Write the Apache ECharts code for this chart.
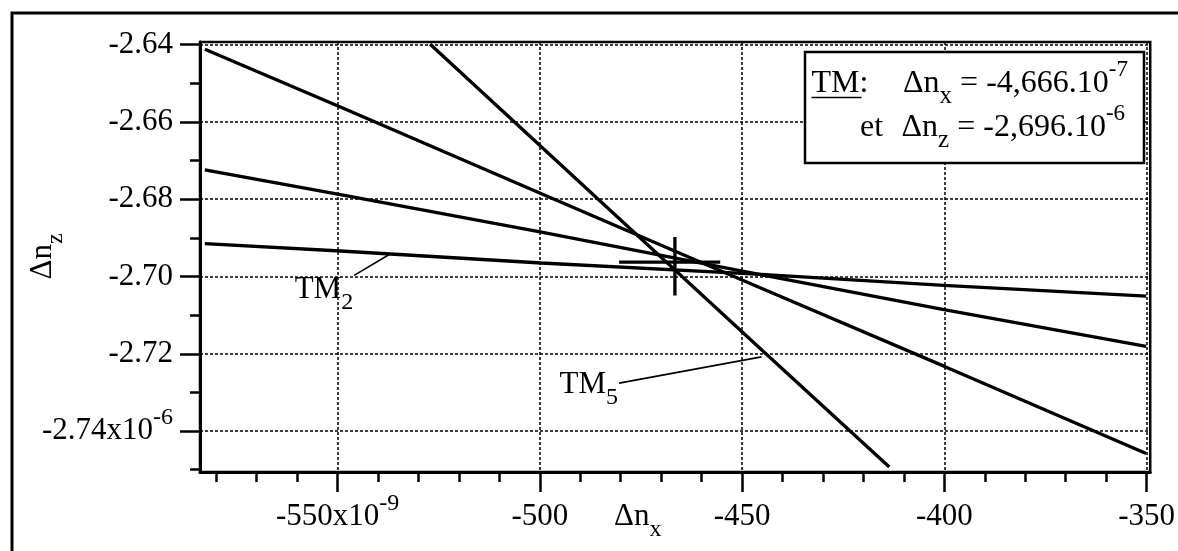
<!DOCTYPE html>
<html>
<head>
<meta charset="utf-8">
<script src="https://cdn.jsdelivr.net/npm/echarts@6/dist/echarts.min.js"></script>
<style>html,body{margin:0;padding:0;background:#fff}#c{width:1178px;height:551px}</style>
</head>
<body>
<div id="c"></div>
<script>
// ---- axis ranges and ticks (units: x in 1e-9, y in 1e-6) ----
const xMin = -584, xMax = -349.1;
const yMin = -2.7506, yMax = -2.6393;
const xMajorTicks = [-550, -500, -450, -400, -350];
const xTickLabels = ['-550x10^-9', '-500', '-450', '-400', '-350'];
const xMinorTicks = [-580, -570, -560, -540, -530, -520, -510, -490, -480, -470, -460, -440, -430, -420, -410, -390, -380, -370, -360];
const yMajorTicks = [-2.64, -2.66, -2.68, -2.70, -2.72, -2.74];
const yTickLabels = ['-2.64', '-2.66', '-2.68', '-2.70', '-2.72', '-2.74x10^-6'];
const yMinorTicks = [-2.65, -2.67, -2.69, -2.71, -2.73, -2.75];

// ---- lines ----
const lineTM2 = [[-582.8, -2.6915], [-549.3, -2.6934], [-499.6, -2.6965], [-446.4, -2.6994], [-400.1, -2.7023], [-350.1, -2.7051]];
const lineTM3 = [[-582.8, -2.6724], [-549.3, -2.6788], [-499.6, -2.6885], [-446.4, -2.6993], [-400.1, -2.7086], [-350.1, -2.7181]];
const lineTM4 = [[-582.8, -2.6412], [-549.3, -2.6561], [-499.6, -2.6786], [-446.4, -2.7025], [-400.1, -2.7232], [-350.1, -2.7458]];
const lineTM5 = [[-527.1, -2.6399], [-486.1, -2.6795], [-446.4, -2.7178], [-413.6, -2.7493]];

// ---- solution TM with its uncertainty bars ----
const tmPoint = [-466.6, -2.6963];
const tmErrX = [-480.4, -455.4];
const tmErrY = [-2.6898, -2.7049];

// ---- annotation leaders and label anchors ----
const leaderTM2 = [[-545.9, -2.6997], [-536.9, -2.6941]];
const leaderTM5 = [[-480.4, -2.7276], [-445.2, -2.7208]];
const labelTM2 = [-560.6, -2.6969];
const labelTM5 = [-495.1, -2.7215];

const FONT = "'Liberation Serif', 'Times New Roman', serif";
const K = '#000';

function toRich(s) {
  const parts = s.split('^');
  return '{m|' + parts[0] + '}' + (parts[1] ? '{p|' + parts[1] + '}' : '');
}
const richTick = {
  m: {fontSize: 31, lineHeight: 50, fontFamily: FONT, color: K},
  p: {fontSize: 24, lineHeight: 26, verticalAlign: 'top', fontFamily: FONT, color: K},
  b: {fontSize: 24, lineHeight: 31, verticalAlign: 'bottom', fontFamily: FONT, color: K}
};
const richLeg = {
  m: {fontSize: 32, lineHeight: 50, fontFamily: FONT, color: K},
  p: {fontSize: 23, lineHeight: 31, verticalAlign: 'top', fontFamily: FONT, color: K},
  b: {fontSize: 25, lineHeight: 31, verticalAlign: 'bottom', fontFamily: FONT, color: K}
};

const gridLine = {show: true, lineStyle: {color: K, width: 1.5, type: [3, 2]}};

function lineSeries(name, data, w) {
  return {
    name: name, type: 'line', data: data, showSymbol: false, symbol: 'none',
    lineStyle: {color: K, width: w}, silent: true, z: 3, clip: true
  };
}

const chart = echarts.init(document.getElementById('c'));
chart.setOption({
  animation: false,
  backgroundColor: '#fff',
  grid: {left: 200, top: 42, right: 22, bottom: 79, show: true, borderColor: K, borderWidth: 2.5, backgroundColor: 'rgba(0,0,0,0)'},
  xAxis: [
    {
      type: 'value', min: xMin, max: xMax, position: 'bottom',
      axisLine: {show: true, onZero: false, lineStyle: {color: K, width: 3}},
      axisTick: {show: true, customValues: xMajorTicks, length: 20, lineStyle: {color: K, width: 2.5}},
      axisLabel: {
        show: true, customValues: xMajorTicks, margin: 20,
        formatter: function (v) { const i = xMajorTicks.indexOf(v); return toRich(i >= 0 ? xTickLabels[i] : String(v)); },
        rich: richTick
      },
      splitLine: gridLine
    },
    {
      type: 'value', min: xMin, max: xMax, position: 'bottom', offset: 0,
      axisLine: {show: false, onZero: false},
      axisTick: {show: true, customValues: xMinorTicks, length: 10, lineStyle: {color: K, width: 2.5}},
      axisLabel: {show: false},
      splitLine: {show: false}
    }
  ],
  yAxis: [
    {
      type: 'value', min: yMin, max: yMax, position: 'left',
      axisLine: {show: true, onZero: false, lineStyle: {color: K, width: 3}},
      axisTick: {show: true, customValues: yMajorTicks, length: 20, lineStyle: {color: K, width: 2.5}},
      axisLabel: {
        show: true, customValues: yMajorTicks, margin: 27,
        formatter: function (v) {
          let i = -1;
          yMajorTicks.forEach(function (t, k) { if (Math.abs(t - v) < 1e-9) i = k; });
          return toRich(i >= 0 ? yTickLabels[i] : String(v));
        },
        rich: richTick
      },
      splitLine: gridLine
    },
    {
      type: 'value', min: yMin, max: yMax, position: 'left', offset: 0,
      axisLine: {show: false, onZero: false},
      axisTick: {show: true, customValues: yMinorTicks, length: 10, lineStyle: {color: K, width: 2.5}},
      axisLabel: {show: false},
      splitLine: {show: false}
    }
  ],
  series: [
    lineSeries('TM2', lineTM2, 3.3),
    lineSeries('TM3', lineTM3, 3.3),
    lineSeries('TM4', lineTM4, 3.3),
    lineSeries('TM5', lineTM5, 3.3),
    lineSeries('TM err x', [[tmErrX[0], tmPoint[1]], [tmErrX[1], tmPoint[1]]], 3.3),
    lineSeries('TM err y', [[tmPoint[0], tmErrY[0]], [tmPoint[0], tmErrY[1]]], 3.3),
    lineSeries('TM2 leader', leaderTM2, 1.6),
    lineSeries('TM5 leader', leaderTM5, 1.6)
  ]
});

const p2 = chart.convertToPixel({gridIndex: 0}, labelTM2);
const p5 = chart.convertToPixel({gridIndex: 0}, labelTM5);

chart.setOption({
  graphic: [
    {id: 'frame', type: 'polyline', z: 50, silent: true,
     shape: {points: [[12, 560], [12, 13], [1190, 13]]},
     style: {stroke: K, lineWidth: 3, fill: null}},
    {id: 'lblTM2', type: 'text', x: p2[0], y: p2[1], z: 50, silent: true,
     style: {text: '{m|TM}{b|2}', rich: richTick, align: 'left', verticalAlign: 'top'}},
    {id: 'lblTM5', type: 'text', x: p5[0], y: p5[1], z: 50, silent: true,
     style: {text: '{m|TM}{b|5}', rich: richTick, align: 'left', verticalAlign: 'top'}},
    {id: 'xTitle', type: 'text', x: 614, y: 491.5, z: 50, silent: true,
     style: {text: '{m|\u0394n}{b|x}', rich: richTick, align: 'left', verticalAlign: 'top'}},
    {id: 'yTitle', type: 'text', x: 43, y: 256.5, rotation: Math.PI / 2, z: 50, silent: true,
     style: {text: '{m|\u0394n}{b|z}', rich: richTick, align: 'center', verticalAlign: 'middle'}},
    {id: 'legBox', type: 'rect', z: 60, silent: true,
     shape: {x: 805, y: 52, width: 339, height: 111},
     style: {fill: '#fff', stroke: K, lineWidth: 2.5}},
    {id: 'legTM', type: 'text', x: 811.5, y: 58.5, z: 61, silent: true,
     style: {text: '{m|TM:}', rich: richLeg, align: 'left', verticalAlign: 'top'}},
    {id: 'legUl', type: 'line', z: 61, silent: true,
     shape: {x1: 811.5, y1: 97.5, x2: 861.5, y2: 97.5},
     style: {stroke: K, lineWidth: 1.5}},
    {id: 'legL1', type: 'text', x: 903, y: 58.5, z: 61, silent: true,
     style: {text: '{m|\u0394n}{b|x}{m| = -4,666.10}{p|-7}', rich: richLeg, align: 'left', verticalAlign: 'top'}},
    {id: 'legEt', type: 'text', x: 860, y: 102.5, z: 61, silent: true,
     style: {text: '{m|et}', rich: richLeg, align: 'left', verticalAlign: 'top'}},
    {id: 'legL2', type: 'text', x: 901.5, y: 102.5, z: 61, silent: true,
     style: {text: '{m|\u0394n}{b|z}{m| = -2,696.10}{p|-6}', rich: richLeg, align: 'left', verticalAlign: 'top'}}
  ]
});
</script>
</body>
</html>
